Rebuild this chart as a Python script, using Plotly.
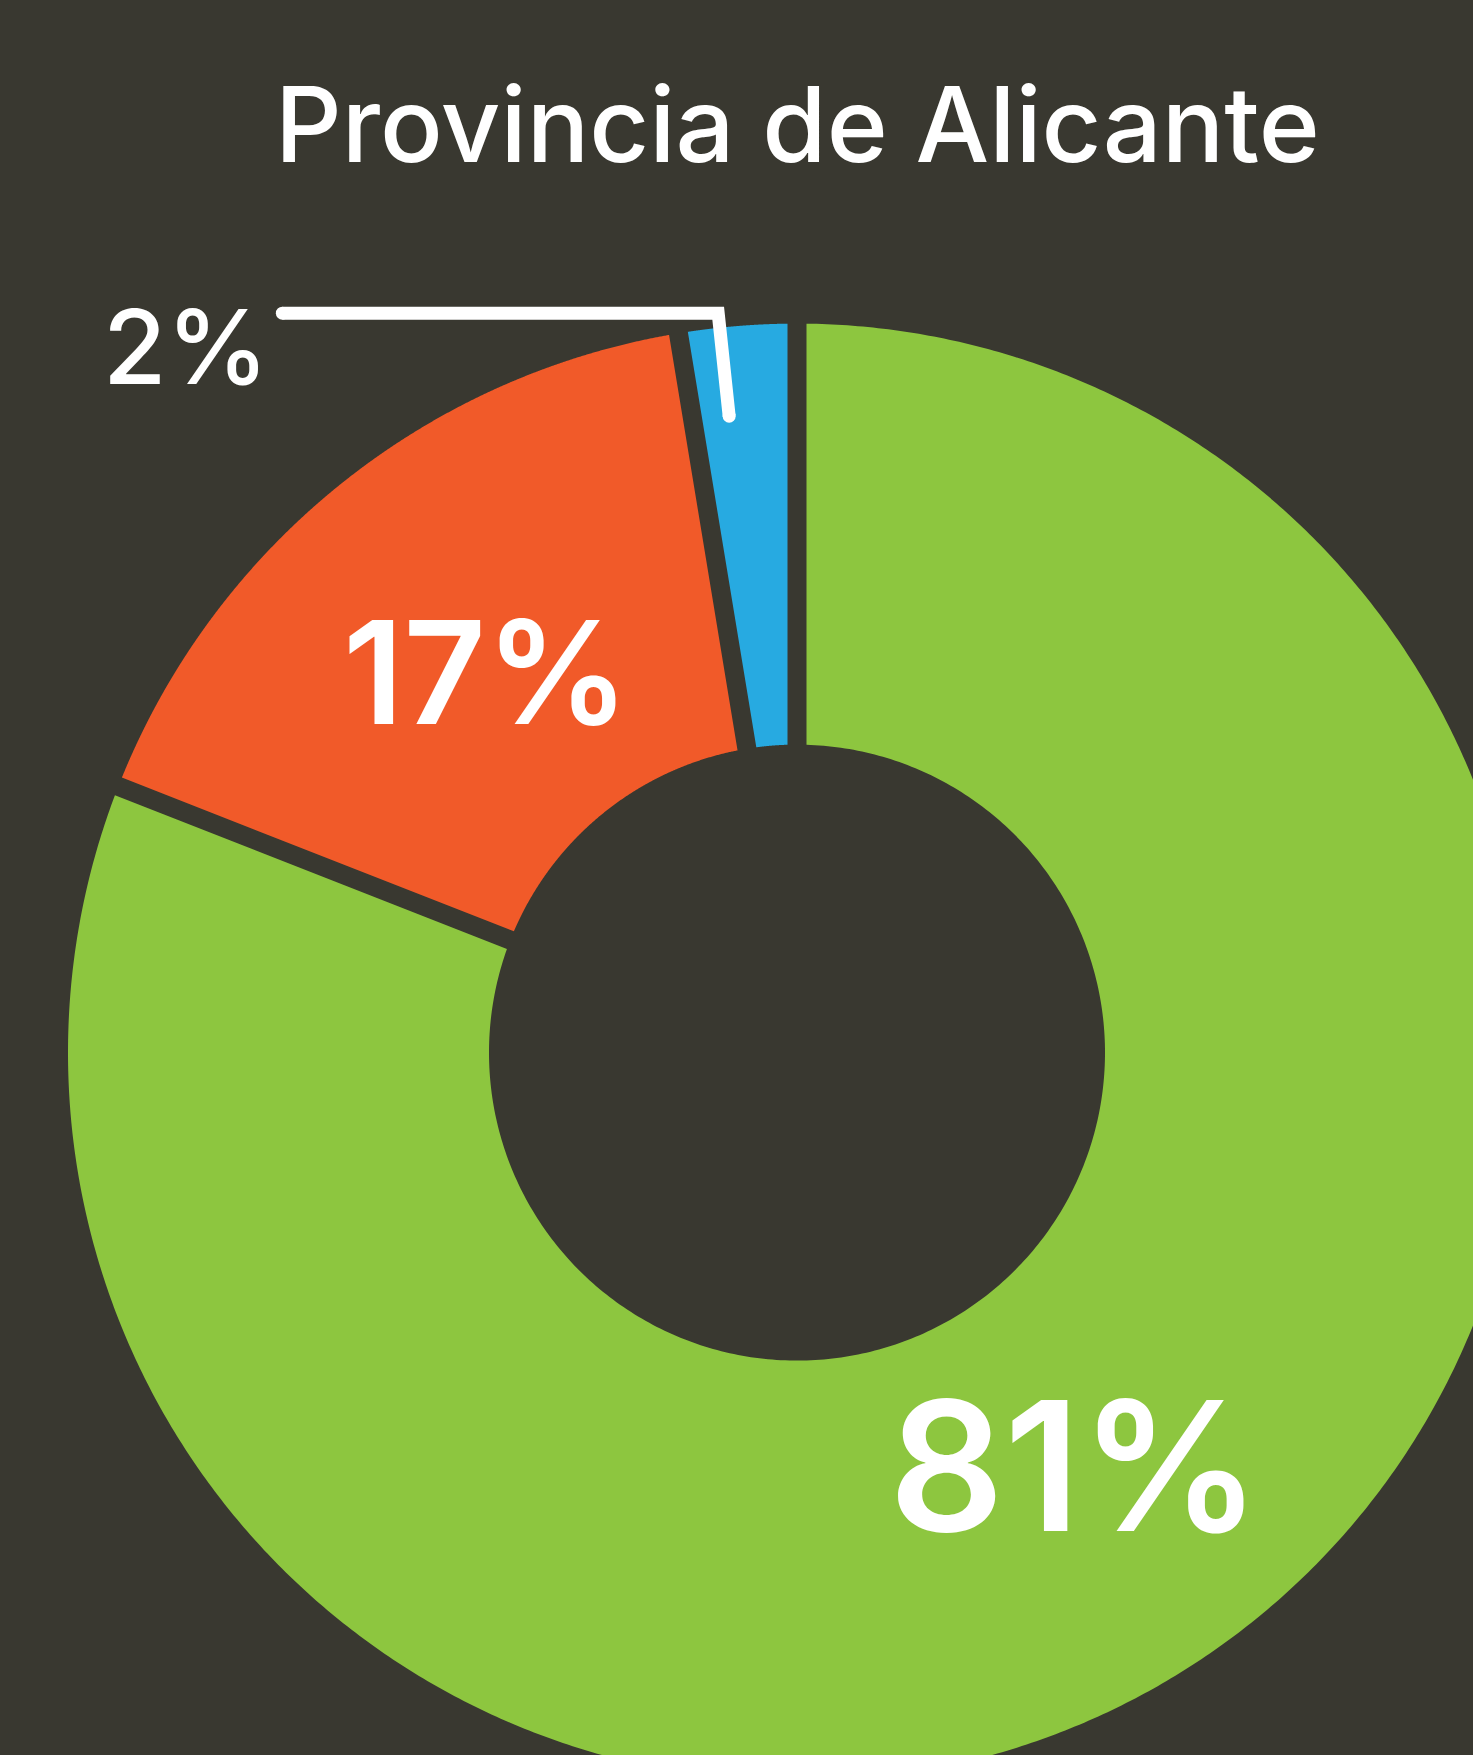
import numpy as np
import plotly.graph_objects as go

# ---- data ----
categories = ["Segmento A", "Segmento B", "Segmento C"]
values = [80.95, 16.45, 2.60]
labels = ["81%", "17%", "2%"]
colors = ["#8DC63F", "#F15A29", "#27AAE1"]
title_text = "Provincia de Alicante"

# ---- layout constants ----
BG = "#393830"
W, H = 1473, 1755
R_PX = 729.0            # outer radius in px
CX, CY = 797.0, 1052.6  # donut centre in px (from left / from top)
HOLE = 308.0 / R_PX
GAP = 19.0 / R_PX
LABEL_R = 0.678
FONT = "Inter, Roboto, Liberation Sans, sans-serif"

xr = [-CX / R_PX, (W - CX) / R_PX]
yr = [-(H - CY) / R_PX, CY / R_PX]

fig = go.Figure()

total = float(sum(values))
bounds = np.concatenate([[0.0], np.cumsum(values) / total * 360.0])
h = GAP / 2.0


def wedge(a0, a1, ro, ri):
    a0r, a1r = np.radians(a0), np.radians(a1)
    to = np.linspace(a0r + np.arcsin(h / ro), a1r - np.arcsin(h / ro), 720)
    ti = np.linspace(a1r - np.arcsin(h / ri), a0r + np.arcsin(h / ri), 360)
    xs = np.concatenate([ro * np.sin(to), ri * np.sin(ti), [ro * np.sin(to[0])]])
    ys = np.concatenate([ro * np.cos(to), ri * np.cos(ti), [ro * np.cos(to[0])]])
    return xs, ys


for i, cat in enumerate(categories):
    xs, ys = wedge(bounds[i], bounds[i + 1], 1.0, HOLE)
    fig.add_trace(go.Scatter(x=xs, y=ys, mode="lines", fill="toself",
                             fillcolor=colors[i],
                             line=dict(width=0, color=colors[i], simplify=False),
                             name=cat, hoverinfo="name", showlegend=False))

# inside labels for the two big slices
label_sizes = [180, 143]
label_dy = [-0.006, -0.004]
for i in range(2):
    mid = np.radians((bounds[i] + bounds[i + 1]) / 2.0)
    fig.add_annotation(x=LABEL_R * np.sin(mid), y=LABEL_R * np.cos(mid) + label_dy[i],
                       xref="x", yref="y", text=labels[i], showarrow=False,
                       xanchor="center", yanchor="middle",
                       font=dict(family=FONT, size=label_sizes[i], color="white",
                                 weight=600))

# leader line for the small slice
a_l = np.radians(bounds[2] + 0.35 * (bounds[3] - bounds[2]))
p_end = (0.878 * np.sin(a_l), 0.878 * np.cos(a_l))
p_elb = (1.02 * np.sin(a_l), 1.02 * np.cos(a_l))
x_left = -0.706
lx = [x_left, p_elb[0], p_end[0]]
ly = [p_elb[1], p_elb[1], p_end[1]]
fig.add_trace(go.Scatter(x=lx, y=ly, mode="lines",
                         line=dict(color="white", width=13, simplify=False),
                         hoverinfo="skip", showlegend=False))
fig.add_trace(go.Scatter(x=[lx[0], lx[2]], y=[ly[0], ly[2]], mode="markers",
                         marker=dict(color="white", size=13, line=dict(width=0)),
                         hoverinfo="skip", showlegend=False))
fig.add_annotation(x=x_left - 0.016, y=p_elb[1] - 0.046, xref="x", yref="y",
                   text=labels[2], showarrow=False, xanchor="right", yanchor="middle",
                   font=dict(family=FONT, size=103, color="white", weight=500))

# title
fig.add_annotation(x=0.0, y=1 - 124.0 / H, xref="x", yref="paper",
                   text=title_text, showarrow=False, xanchor="center", yanchor="middle",
                   font=dict(family=FONT, size=104, color="white", weight=500))

fig.update_layout(
    width=W, height=H,
    margin=dict(l=0, r=0, t=0, b=0),
    paper_bgcolor=BG, plot_bgcolor=BG,
    xaxis=dict(range=xr, visible=False, fixedrange=True),
    yaxis=dict(range=yr, visible=False, fixedrange=True),
    showlegend=False,
)

fig.write_html("out.html", config={"displayModeBar": False},
               post_script="document.body.style.margin='0';document.body.style.overflow='hidden';")
